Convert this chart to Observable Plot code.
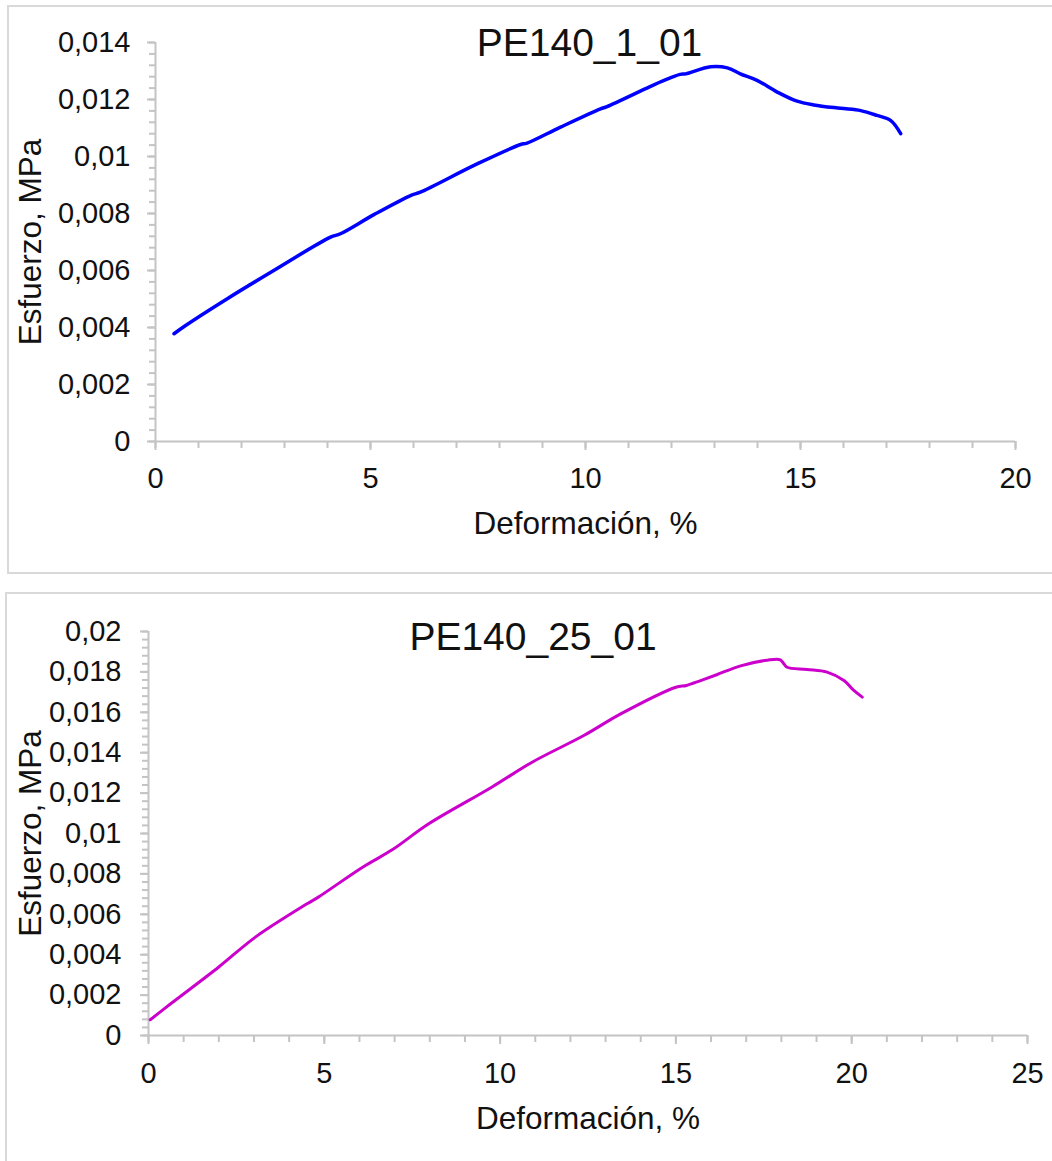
<!DOCTYPE html>
<html>
<head>
<meta charset="utf-8">
<script src="https://cdn.jsdelivr.net/npm/d3@7"></script>
<script src="https://cdn.jsdelivr.net/npm/@observablehq/plot@0.6"></script>
<style>
  body { margin: 0; background: #fff; }
  #wrap { position: relative; width: 1052px; height: 1161px; overflow: hidden; background: #fff; }
  .chart { position: absolute; left: 0; }
  .box { position: absolute; border: 2px solid #d9d9d9; box-sizing: border-box; pointer-events: none; }
</style>
</head>
<body>
<div id="wrap">
  <div class="chart" id="c1" style="top:0px"></div>
  <div class="chart" id="c2" style="top:590px"></div>
  <div class="box" style="left:7px;top:5px;width:1100px;height:569px"></div>
  <div class="box" style="left:5px;top:592px;width:1100px;height:620px"></div>
</div>
<script>
// ---------- Data: chart 1 (PE140_1_01) ----------
const title1 = "PE140_1_01";
const strain1 = [0.43, 0.70, 1.67, 2.75, 4.07, 4.30, 5.08, 5.93, 6.16, 7.48, 8.49, 8.64, 9.42, 10.35, 10.50, 11.50, 11.80, 12.20, 12.33, 12.91, 13.30, 13.60, 13.99, 14.46, 14.92, 15.31, 15.93, 16.40, 16.78, 17.10, 17.33];
const stress1 = [0.00378, 0.00407, 0.00501, 0.00600, 0.00717, 0.00729, 0.00796, 0.00863, 0.00875, 0.00974, 0.01042, 0.01047, 0.01103, 0.01167, 0.01175, 0.01245, 0.01265, 0.01288, 0.01290, 0.01315, 0.01311, 0.01290, 0.01267, 0.01226, 0.01194, 0.01181, 0.01169, 0.01161, 0.01144, 0.01126, 0.01080];
const xTicks1 = [0, 5, 10, 15, 20];
const xTickLabels1 = ["0", "5", "10", "15", "20"];
const yTicks1 = [0, 0.002, 0.004, 0.006, 0.008, 0.010, 0.012, 0.014];
const yTickLabels1 = ["0", "0,002", "0,004", "0,006", "0,008", "0,01", "0,012", "0,014"];

// ---------- Data: chart 2 (PE140_25_01) ----------
const title2 = "PE140_25_01";
const strain2 = [0.05, 0.63, 1.99, 3.04, 4.51, 4.83, 6.09, 6.93, 7.97, 9.76, 10.91, 12.38, 13.43, 15.00, 15.30, 15.70, 16.16, 16.84, 17.60, 17.97, 18.07, 18.16, 18.73, 19.30, 19.78, 20.06, 20.30];
const stress2 = [0.00078, 0.00157, 0.00338, 0.00487, 0.00652, 0.00685, 0.00833, 0.00919, 0.01048, 0.01229, 0.01353, 0.01485, 0.01592, 0.01724, 0.01733, 0.01757, 0.01786, 0.01830, 0.01858, 0.01860, 0.01840, 0.01823, 0.01812, 0.01799, 0.01757, 0.01708, 0.01675];
const xTicks2 = [0, 5, 10, 15, 20, 25];
const xTickLabels2 = ["0", "5", "10", "15", "20", "25"];
const yTicks2 = [0, 0.002, 0.004, 0.006, 0.008, 0.010, 0.012, 0.014, 0.016, 0.018, 0.020];
const yTickLabels2 = ["0", "0,002", "0,004", "0,006", "0,008", "0,01", "0,012", "0,014", "0,016", "0,018", "0,02"];

const xLabel = "Deformación, %";
const yLabel = "Esfuerzo, MPa";

const FONT = '"Liberation Sans", Arial, "DejaVu Sans", sans-serif';
const AXIS = "#c4c4c4";
const INK = "#111";

function chart(o) {
  const data = o.xs.map((x, i) => ({x, y: o.ys[i]}));
  const xMinor = d3.range(o.xDomain[0], o.xDomain[1] + 0.001, 1);
  const yMinor = d3.range(o.yDomain[0], o.yDomain[1] + 0.00001, 0.0004);
  return Plot.plot({
    width: o.width,
    height: o.height,
    marginLeft: o.ml, marginRight: o.mr, marginTop: o.mt, marginBottom: o.mb,
    style: {fontFamily: FONT, fontSize: "29px", color: INK, background: "transparent", overflow: "visible"},
    x: {domain: o.xDomain},
    y: {domain: o.yDomain},
    marks: [
      // minor ticks
      Plot.axisX({ticks: xMinor, tickSize: 7, text: null, label: null, stroke: AXIS, strokeWidth: 2}),
      Plot.axisY({ticks: yMinor, tickSize: 6, text: null, label: null, stroke: AXIS, strokeWidth: 2}),
      // major ticks + labels
      Plot.axisX({ticks: o.xTicks, tickSize: 9, tickPadding: o.xPad, label: null, stroke: AXIS, strokeWidth: 2, fill: INK,
        tickFormat: d => o.xTickLabels[o.xTicks.indexOf(d)]}),
      Plot.axisY({ticks: o.yTicks, tickSize: 8, tickPadding: o.yPad, label: null, stroke: AXIS, strokeWidth: 2, fill: INK,
        tickFormat: d => o.yTickLabels[o.yTicks.indexOf(d)]}),
      // axis lines
      Plot.ruleY([o.yDomain[0]], {stroke: AXIS, strokeWidth: 2}),
      Plot.ruleX([o.xDomain[0]], {stroke: AXIS, strokeWidth: 2}),
      // curve
      Plot.line(data, {x: "x", y: "y", stroke: o.color, strokeWidth: o.sw, curve: "catmull-rom", strokeLinecap: "round", strokeLinejoin: "round"}),
      // title
      Plot.text([o.title], {text: d => d, frameAnchor: "top", textAnchor: "middle", lineAnchor: "middle", dx: o.titleDx, dy: o.titleDy, fontSize: 39, fill: INK}),
      // axis titles
      Plot.text([xLabel], {text: d => d, frameAnchor: "bottom", textAnchor: "middle", lineAnchor: "middle", dy: o.xTitleDy, fontSize: 31.5, fill: INK}),
      Plot.text([yLabel], {text: d => d, frameAnchor: "left", textAnchor: "middle", lineAnchor: "middle", rotate: -90, dx: o.yTitleDx, dy: o.yTitleDy, fontSize: 31.5, fill: INK})
    ]
  });
}

document.getElementById("c1").appendChild(chart({
  width: 1052, height: 580, ml: 155, mr: 37, mt: 42, mb: 139,
  xs: strain1, ys: stress1, color: "#0000ff", sw: 3.5,
  xDomain: [0, 20], yDomain: [0, 0.014],
  xTicks: xTicks1, xTickLabels: xTickLabels1, yTicks: yTicks1, yTickLabels: yTickLabels1,
  xPad: 17, yPad: 17,
  title: title1, titleDx: 4, titleDy: 1,
  xTitleDy: 82, yTitleDx: -125, yTitleDy: 0
}));

document.getElementById("c2").appendChild(chart({
  width: 1052, height: 571, ml: 148, mr: 25, mt: 41, mb: 126,
  xs: strain2, ys: stress2, color: "#cc00cc", sw: 3,
  xDomain: [0, 25], yDomain: [0, 0.02],
  xTicks: xTicks2, xTickLabels: xTickLabels2, yTicks: yTicks2, yTickLabels: yTickLabels2,
  xPad: 17.5, yPad: 19,
  title: title2, titleDx: -55, titleDy: 6.5,
  xTitleDy: 83.5, yTitleDx: -118, yTitleDy: 0
}));
</script>
</body>
</html>
